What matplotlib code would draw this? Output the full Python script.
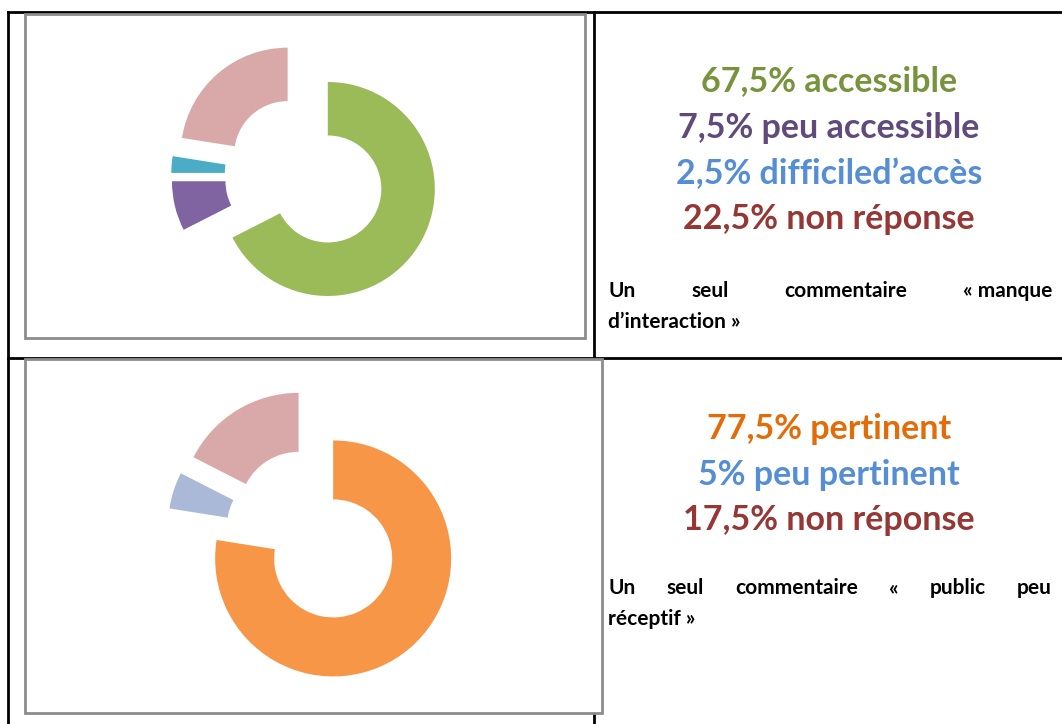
import matplotlib
matplotlib.use("Agg")
import matplotlib.pyplot as plt
from matplotlib.patches import Rectangle

# --- data -------------------------------------------------------------------
access_labels = ["accessible", "peu accessible", "difficile d'accès", "non réponse"]
access_values = [67.5, 7.5, 2.5, 22.5]
access_colors = ["#9BBB59", "#8064A2", "#4BACC6", "#D9A9A9"]
access_text = ["67,5% accessible", "7,5% peu accessible",
               "2,5% difficiled\u2019accès", "22,5% non réponse"]
access_text_colors = ["#77933C", "#604A7B", "#558ED5", "#953735"]
access_comment = ["Un", "seul", "commentaire", "\u00ab manque"]
access_comment_end = "d\u2019interaction \u00bb"

relevance_labels = ["pertinent", "peu pertinent", "non réponse"]
relevance_values = [77.5, 5.0, 17.5]
relevance_colors = ["#F79646", "#AAB9D7", "#D9A9A9"]
relevance_text = ["77,5% pertinent", "5% peu pertinent", "17,5% non réponse"]
relevance_text_colors = ["#E36C09", "#558ED5", "#953735"]
relevance_comment = ["Un", "seul", "commentaire", "\u00ab", "public", "peu"]
relevance_comment_end = "réceptif \u00bb"

W, H = 1062, 724
FONT = "Lato"
HEAD_SIZE = 24.5
NOTE_SIZE = 15


def Y(y):
    # convert a top-down pixel position to the axes' bottom-up coordinate
    return H - y


def donut(ax, values, colors, cx, cy, r):
    ax.pie(values, colors=colors, startangle=90, counterclock=False,
           center=(cx, Y(cy)), radius=r, explode=[0.25 * r] * len(values),
           wedgeprops=dict(width=0.5 * r, linewidth=0), frame=True)


def justified(ax, words, x0, x1, y, size):
    renderer = ax.figure.canvas.get_renderer()
    texts = [ax.text(0, Y(y), w, fontsize=size, fontweight="bold", family=FONT,
                     va="center", ha="left", color="black") for w in words]
    widths = [t.get_window_extent(renderer).width for t in texts]
    gap = (x1 - x0 - sum(widths)) / (len(words) - 1)
    x = x0
    for t, w in zip(texts, widths):
        t.set_x(x)
        x += w + gap


fig = plt.figure(figsize=(W / 100, H / 100), dpi=100)
ax = fig.add_axes([0, 0, 1, 1])

donut(ax, access_values, access_colors, 305, 175, 107)
donut(ax, relevance_values, relevance_colors, 314, 536, 118)

ax.set_xlim(0, W)
ax.set_ylim(0, H)
ax.set_aspect("auto")
ax.axis("off")

# table grid
lw = 2.0
ax.plot([8, W], [Y(12), Y(12)], color="black", lw=lw, zorder=0)
ax.plot([8, W], [Y(358), Y(358)], color="black", lw=lw, zorder=0)
ax.plot([8, 8], [Y(12), 0], color="black", lw=lw, zorder=0)
ax.plot([594, 594], [Y(12), 0], color="black", lw=lw, zorder=0)

# chart frames
for (x0, y0, x1, y1) in [(25, 14, 585, 338), (25, 359, 602, 713)]:
    ax.add_patch(Rectangle((x0, Y(y1)), x1 - x0, y1 - y0, facecolor="white",
                           edgecolor="#8C8C8C", lw=2.0, zorder=0.5))

# headline percentages
for s, c, y in zip(access_text, access_text_colors, [81, 128, 174, 219]):
    ax.text(829, Y(y), s, color=c, fontsize=HEAD_SIZE, fontweight="bold",
            family=FONT, ha="center", va="center")
for s, c, y in zip(relevance_text, relevance_text_colors, [429, 475, 520]):
    ax.text(829, Y(y), s, color=c, fontsize=HEAD_SIZE, fontweight="bold",
            family=FONT, ha="center", va="center")

# comments
justified(ax, access_comment, 608, 1052, 291, NOTE_SIZE)
ax.text(608, Y(322), access_comment_end, fontsize=NOTE_SIZE, fontweight="bold",
        family=FONT, va="center", ha="left")
justified(ax, relevance_comment, 608, 1052, 588, NOTE_SIZE)
ax.text(608, Y(619), relevance_comment_end, fontsize=NOTE_SIZE,
        fontweight="bold", family=FONT, va="center", ha="left")

fig.savefig("out.png", dpi=100)
